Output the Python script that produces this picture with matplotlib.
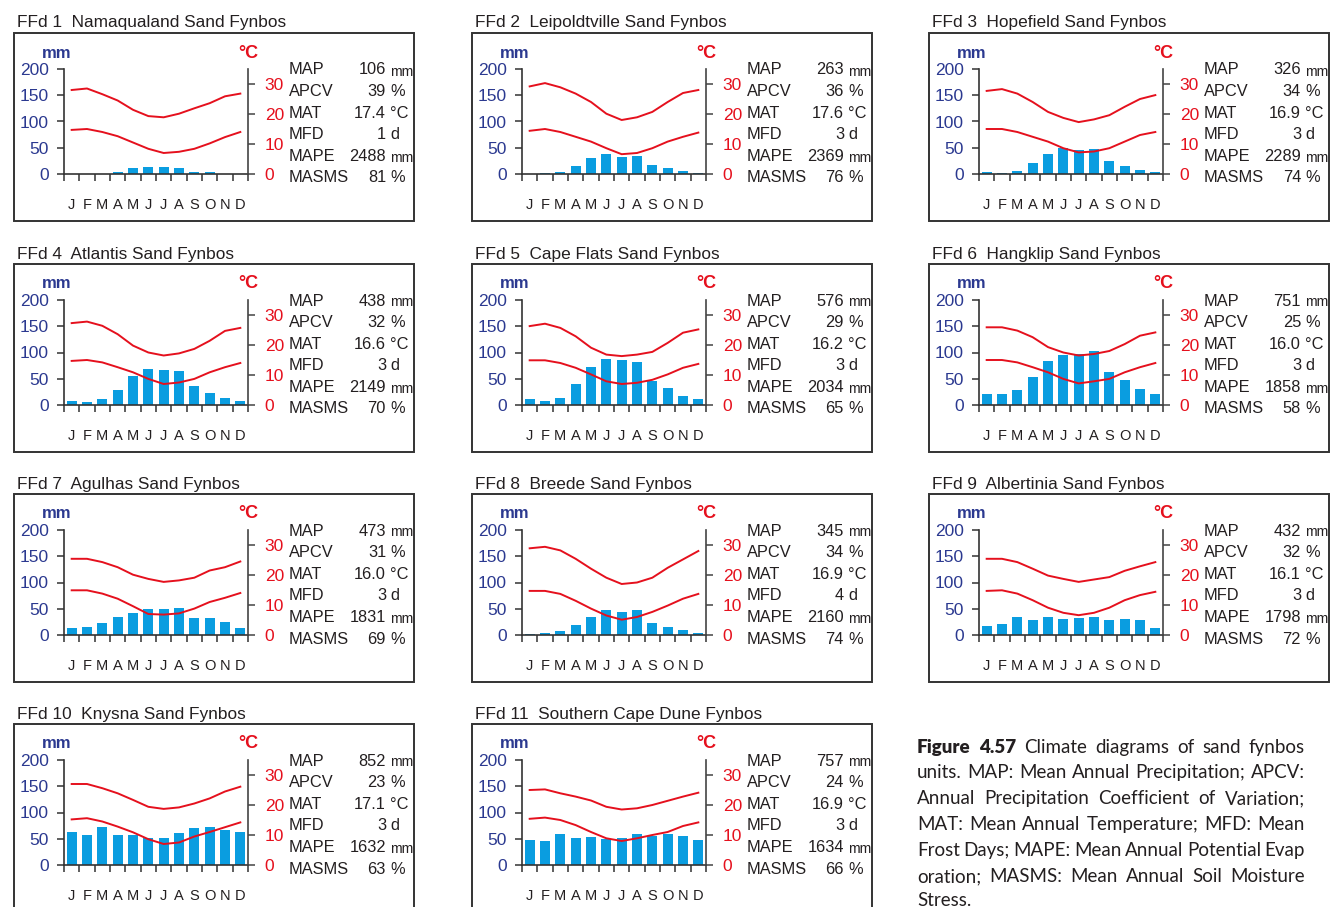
import matplotlib
matplotlib.use("Agg")
import matplotlib.pyplot as plt
from matplotlib.patches import Rectangle
import numpy as np

W, H = 1331, 907

months = ['J', 'F', 'M', 'A', 'M', 'J', 'J', 'A', 'S', 'O', 'N', 'D']
stat_names = ['MAP', 'APCV', 'MAT', 'MFD', 'MAPE', 'MASMS']
stat_units = ['mm', '%', '°C', 'd', 'mm', '%']

titles = ['FFd 1  Namaqualand Sand Fynbos', 'FFd 2  Leipoldtville Sand Fynbos',
          'FFd 3  Hopefield Sand Fynbos', 'FFd 4  Atlantis Sand Fynbos',
          'FFd 5  Cape Flats Sand Fynbos', 'FFd 6  Hangklip Sand Fynbos',
          'FFd 7  Agulhas Sand Fynbos', 'FFd 8  Breede Sand Fynbos',
          'FFd 9  Albertinia Sand Fynbos', 'FFd 10  Knysna Sand Fynbos',
          'FFd 11  Southern Cape Dune Fynbos']

# monthly rainfall (mm)
rain = [
    [0, 0, 0, 3, 11, 13, 13, 11, 4, 3, 0, 0],
    [0, 1, 3, 15, 31, 39, 33, 35, 17, 12, 6, 2],
    [4, 2, 6, 21, 38, 50, 46, 48, 25, 16, 8, 4],
    [7, 5, 11, 28, 56, 68, 66, 64, 36, 22, 13, 7],
    [11, 7, 14, 40, 73, 88, 86, 81, 45, 32, 17, 11],
    [21, 21, 28, 53, 83, 96, 98, 102, 62, 47, 30, 21],
    [14, 16, 23, 35, 42, 50, 50, 52, 33, 33, 25, 14],
    [2, 4, 8, 20, 35, 48, 44, 48, 22, 16, 10, 4],
    [18, 21, 35, 29, 35, 31, 33, 35, 29, 31, 29, 13],
    [62, 57, 72, 57, 57, 51, 51, 61, 70, 72, 66, 62],
    [47, 45, 60, 51, 53, 49, 51, 60, 55, 60, 56, 47],
]

# mean daily maximum temperature (°C)
tmax = [
    [28.0, 28.5, 26.6, 24.5, 21.4, 19.3, 18.9, 20.1, 21.9, 23.6, 25.9, 26.8],
    [29.2, 30.3, 28.9, 26.8, 24.0, 20.1, 18.0, 18.9, 20.7, 24.0, 27.0, 28.0],
    [27.7, 28.3, 26.8, 24.0, 20.7, 18.7, 17.3, 18.2, 19.6, 22.4, 25.0, 26.3],
    [27.3, 27.8, 26.4, 23.6, 19.8, 17.5, 16.5, 17.2, 18.7, 21.4, 24.7, 25.7],
    [26.3, 27.1, 25.7, 22.9, 19.1, 16.8, 16.3, 16.8, 17.7, 20.7, 24.1, 25.2],
    [25.9, 25.9, 24.8, 22.6, 19.3, 17.5, 16.5, 17.0, 18.0, 20.3, 23.1, 24.2],
    [25.4, 25.4, 24.3, 22.6, 20.1, 18.7, 17.7, 18.2, 19.1, 21.5, 22.6, 24.5],
    [28.9, 29.4, 28.2, 25.4, 22.1, 19.1, 17.0, 17.5, 19.1, 22.4, 25.2, 28.0],
    [25.4, 25.4, 24.3, 22.1, 19.8, 18.7, 17.7, 18.5, 19.3, 21.4, 22.9, 24.3],
    [27.0, 27.0, 25.6, 23.9, 21.7, 19.4, 18.7, 19.2, 20.5, 22.2, 24.5, 26.1],
    [25.0, 25.2, 23.9, 22.8, 21.5, 19.4, 18.5, 18.9, 20.0, 21.4, 22.8, 24.1],
]

# mean daily minimum temperature (°C)
tmin = [
    [14.7, 15.0, 14.0, 12.6, 10.5, 8.4, 7.0, 7.4, 8.4, 10.2, 12.3, 14.0],
    [14.4, 15.0, 14.0, 12.4, 10.8, 8.6, 6.6, 7.0, 8.6, 10.8, 12.4, 13.8],
    [15.0, 15.0, 14.0, 12.4, 10.8, 8.6, 7.2, 7.5, 8.6, 10.8, 13.0, 14.0],
    [14.7, 15.0, 14.2, 12.6, 10.9, 8.7, 7.0, 7.5, 8.7, 10.9, 12.6, 14.0],
    [14.9, 14.9, 14.0, 12.4, 10.2, 7.9, 7.0, 7.4, 8.4, 10.2, 12.4, 13.7],
    [15.0, 15.0, 14.2, 12.6, 10.9, 8.7, 7.2, 7.9, 8.7, 10.9, 12.6, 14.0],
    [14.9, 14.9, 13.8, 12.1, 9.6, 7.0, 6.8, 7.2, 8.8, 11.0, 12.4, 14.0],
    [14.7, 14.7, 13.7, 11.4, 8.8, 6.5, 5.1, 6.0, 7.7, 9.8, 12.1, 13.7],
    [14.7, 14.9, 13.8, 11.6, 9.1, 7.4, 6.6, 7.4, 9.1, 11.6, 13.3, 14.4],
    [15.2, 15.6, 14.5, 12.8, 10.9, 8.6, 7.0, 7.5, 9.5, 11.0, 12.6, 14.2],
    [15.4, 15.8, 15.0, 13.3, 11.0, 8.9, 8.0, 8.9, 10.0, 11.0, 13.0, 14.2],
]

# MAP, APCV, MAT, MFD, MAPE, MASMS
stats = [
    [106, 39, 17.4, 1, 2488, 81],
    [263, 36, 17.6, 3, 2369, 76],
    [326, 34, 16.9, 3, 2289, 74],
    [438, 32, 16.6, 3, 2149, 70],
    [576, 29, 16.2, 3, 2034, 65],
    [751, 25, 16.0, 3, 1858, 58],
    [473, 31, 16.0, 3, 1831, 69],
    [345, 34, 16.9, 4, 2160, 74],
    [432, 32, 16.1, 3, 1798, 72],
    [852, 23, 17.1, 3, 1632, 63],
    [757, 24, 16.9, 3, 1634, 66],
]

caption_lines = [
    'Figure 4.57 Climate diagrams of sand fynbos',
    'units. MAP: Mean Annual Precipitation; APCV:',
    'Annual Precipitation Coefficient of Variation;',
    'MAT: Mean Annual Temperature; MFD: Mean',
    'Frost Days; MAPE: Mean Annual Potential Evap',
    'oration; MASMS: Mean Annual Soil Moisture',
    'Stress.',
]

BLUE = '#0a9de0'
RED = '#e5101d'
NAVY = '#2b3990'
DARK = '#231f20'

plt.rcParams['font.family'] = ['Liberation Sans', 'DejaVu Sans']

fig = plt.figure(figsize=(W / 100, H / 100), dpi=100)


def fx(x):
    return x / W


def fy(y):
    return 1 - y / H


col_left = [14, 472, 929]
row_top = [33, 264, 494, 724]

for i in range(len(titles)):
    bx = col_left[i % 3]
    by = row_top[i // 3]

    # frame and title
    fig.patches.append(Rectangle((fx(bx), fy(by + 188)), 400 / W, 188 / H,
                                 transform=fig.transFigure, fill=False,
                                 edgecolor='#333333', linewidth=1.4))
    fig.text(fx(bx + 3), fy(by - 10), titles[i], fontsize=12.4, color=DARK,
             ha='left', va='center')

    ax = fig.add_axes([fx(bx + 50), fy(by + 141), 184 / W, 105 / H])
    ax.set_xlim(0, 12)
    ax.set_ylim(0, 200)
    x = np.arange(12) + 0.5
    vals = np.array(rain[i])
    ax.bar(x[vals > 0], vals[vals > 0], width=0.65, color=BLUE, zorder=2)

    ax.spines['top'].set_visible(False)
    ax.spines['right'].set_visible(False)
    for s in ['left', 'bottom']:
        ax.spines[s].set_color('#333333')
        ax.spines[s].set_linewidth(1.2)
    ax.set_yticks([0, 50, 100, 150, 200])
    ax.tick_params(axis='y', direction='out', length=5, width=1.1, colors='#333333',
                   labelcolor=NAVY, labelsize=12.5, pad=6)
    ax.set_xticks(x)
    ax.set_xticklabels(months)
    ax.tick_params(axis='x', length=0, labelsize=10.5, labelcolor=DARK, pad=17)
    ax.set_xticks(np.arange(13), minor=True)
    ax.tick_params(axis='x', which='minor', direction='out', length=5, width=1.1,
                   colors='#333333')

    ax2 = ax.twinx()
    ax2.set_ylim(0, 35)
    ax2.plot(x, tmax[i], color=RED, linewidth=1.4, solid_joinstyle='round', zorder=3)
    ax2.plot(x, tmin[i], color=RED, linewidth=1.4, solid_joinstyle='round', zorder=3)
    for s in ['top', 'left', 'bottom']:
        ax2.spines[s].set_visible(False)
    ax2.spines['right'].set_color('#444444')
    ax2.spines['right'].set_linewidth(1.2)
    ax2.set_yticks([0, 10, 20, 30])
    ax2.tick_params(axis='y', direction='out', length=5, width=1.1, colors='#444444',
                    labelcolor=RED, labelsize=12.5, pad=7)

    fig.text(fx(bx + 43), fy(by + 20), 'mm', fontsize=12, fontweight='bold',
             color=NAVY, ha='center', va='center')
    fig.text(fx(bx + 234), fy(by + 20), '°C', fontsize=13, fontweight='bold',
             color=RED, ha='center', va='center')

    # statistics block
    for k in range(6):
        yy = by + 37 + k * 21.6
        v = stats[i][k]
        txt = f'{v:.1f}' if k == 2 else f'{v}'
        fig.text(fx(bx + 275), fy(yy), stat_names[k], fontsize=11.8, color=DARK,
                 ha='left', va='center')
        fig.text(fx(bx + 372), fy(yy), txt, fontsize=11.8, color=DARK,
                 ha='right', va='center')
        usize = 10 if stat_units[k] == 'mm' else 11.8
        fig.text(fx(bx + 376), fy(yy + (1.5 if stat_units[k] == 'mm' else 0)),
                 stat_units[k], fontsize=usize, color=DARK, ha='left', va='center')

# caption, justified between two x limits
renderer = fig.canvas.get_renderer()
cap_x0, cap_x1 = 917, 1305
cap_base = [753, 778, 804, 830, 856, 882, 906]
for n, line in enumerate(caption_lines):
    words = line.split(' ')
    items = []
    for j, w in enumerate(words):
        bold = (n == 0 and j < 2)
        t = fig.text(0, 0, w, fontsize=13.5, family=['Lato', 'DejaVu Sans'],
                     fontweight='heavy' if bold else 'normal', color=DARK,
                     ha='left', va='baseline')
        items.append(t)
    widths = [t.get_window_extent(renderer).width for t in items]
    if n < len(caption_lines) - 1 and len(items) > 1:
        gap = (cap_x1 - cap_x0 - sum(widths)) / (len(items) - 1)
    else:
        gap = 4
    xpos = cap_x0
    for t, w in zip(items, widths):
        t.set_position((fx(xpos), fy(cap_base[n])))
        xpos += w + gap

fig.savefig('out.png', dpi=100)
